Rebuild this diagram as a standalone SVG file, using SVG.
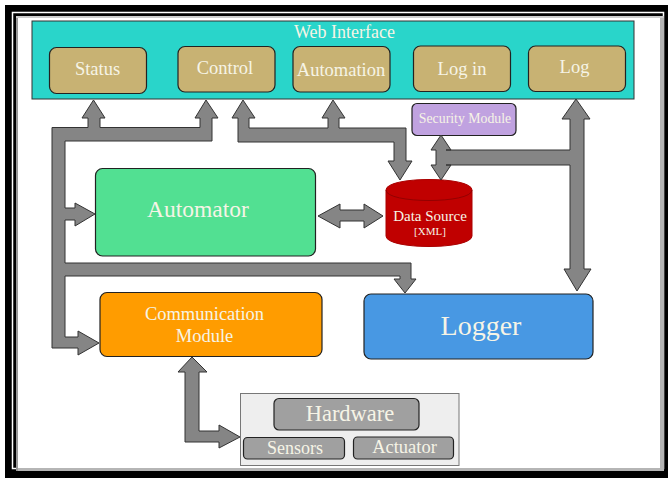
<svg xmlns="http://www.w3.org/2000/svg" width="668" height="479" viewBox="0 0 668 479">
<style>
.n{stroke:#222;stroke-width:1.2}
.c{fill:#858585;stroke:#333;stroke-width:1;stroke-linejoin:miter}
text{font-family:"Liberation Serif","Times New Roman",serif;fill:#f6f4e6;text-anchor:middle}
.t{fill:#c8b273}
.g{fill:#a0a0a0}
</style>
<rect width="668" height="479" fill="#fff"/>
<g id="frame">
<rect x="5" y="5" width="663" height="473" fill="#000"/>
<rect x="12.500" y="12.500" width="651" height="456" fill="none" stroke="#fff" stroke-width="1.500"/>
<rect x="16" y="16" width="648" height="455" fill="#fff"/>
<rect x="660" y="16" width="4" height="455" fill="#b5b5b5"/>
<rect x="16" y="468" width="648" height="3" fill="#b5b5b5"/>
<rect x="16" y="16" width="2" height="455" fill="#999"/>
<rect x="16" y="16" width="648" height="2" fill="#ccc"/>
</g>
<g id="web-interface">
<rect x="32" y="21" width="602" height="78" fill="#29d5ca" stroke="#333" stroke-width="1"/>
<text x="344.500" y="38" font-size="18">Web Interface</text>
</g>
<g id="status"><rect class="n t" x="49.500" y="47.500" width="97" height="46" rx="7"/><text x="97.500" y="75" font-size="18.500">Status</text></g>
<g id="control"><rect class="n t" x="178" y="46.500" width="97" height="45.500" rx="7"/><text x="225" y="74" font-size="18.500">Control</text></g>
<g id="automation"><rect class="n t" x="293" y="46.500" width="97" height="45.500" rx="7"/><text x="341" y="76" font-size="18.500">Automation</text></g>
<g id="log-in"><rect class="n t" x="413.500" y="46" width="97" height="45.500" rx="7"/><text x="462" y="75" font-size="18.500">Log in</text></g>
<g id="log"><rect class="n t" x="528.500" y="46" width="97" height="45.500" rx="7"/><text x="574.500" y="73" font-size="18.500">Log</text></g>
<g id="security-module"><rect class="n" x="412" y="103.500" width="104" height="32" rx="5" fill="#c0a2e0"/><text x="465" y="123" font-size="13.800">Security Module</text></g>
<g id="automator"><rect class="n" x="95.500" y="168.500" width="220" height="87.500" rx="7" fill="#52e092"/><text x="198" y="217" font-size="23.500">Automator</text></g>
<g id="data-source">
<path d="M386 190C386 176 472 176 472 190V236C472 250 386 250 386 236Z" fill="#c00000" stroke="#a00" stroke-width="1"/>
<path d="M386 190C386 204 472 204 472 190" fill="none" stroke="#800" stroke-width="0.800"/>
<text x="430" y="221" font-size="15">Data Source</text><text x="430" y="235" font-size="11">[XML]</text>
</g>
<g id="communication-module"><rect class="n" x="100" y="292.500" width="222" height="64" rx="7" fill="#ff9c00"/><text x="204.500" y="320" font-size="18.500">Communication</text><text x="204.500" y="342" font-size="18.500">Module</text></g>
<g id="logger"><rect class="n" x="364" y="294" width="229" height="65" rx="7" fill="#4898e3"/><text x="481" y="335" font-size="28">Logger</text></g>
<g id="hardware-group">
<rect x="240.500" y="393.500" width="218.500" height="72" fill="#eee" stroke="#777" stroke-width="1"/>
<g id="hardware"><rect class="n g" x="274" y="398.500" width="145" height="31.500" rx="5"/><text x="350" y="421" font-size="22.500">Hardware</text></g>
<g id="sensors"><rect class="n g" x="243.500" y="437.500" width="101" height="21.500" rx="4"/><text x="295" y="454" font-size="18">Sensors</text></g>
<g id="actuator"><rect class="n g" x="353.500" y="437" width="100" height="22" rx="4"/><text x="404.500" y="453" font-size="18.500">Actuator</text></g>
</g>
<g id="connectors">
<polygon class="c" points="93.500,100 105,118 100,118 100,127.500 200,127.500 200,118 195,118 206,100 218,118 212,118 212,141 65,141 65,208 75,208 75,203 95,214 75,226 75,220 65,220 65,263 411,263 411,279 416,279 405,293 394,279 400,279 400,276 65,276 65,337 78,337 78,331 99,343 78,355 78,348 52,348 52,127.500 88,127.500 88,118 82,118"/>
<polygon class="c" points="243,100 255,118 249,118 249,128 328,128 328,118 322,118 333,100 345,118 339,118 339,128 406,128 406,161 412,161 400,180 388,161 394,161 394,142 238,142 238,118 232,118"/>
<polygon class="c" points="576,99 590,119 584,119 584,269 591,269 577,291 564,269 570,269 570,165 446,165 451,165 441,180 431,165 436,165 436,150 431,150 441,135 451,150 446,150 570,150 570,119 562,119"/>
<polygon class="c" points="318,216 340,204 340,210 364,210 364,204 383,216 364,228 364,221 340,221 340,228"/>
<polygon class="c" points="192,357 207,372 199,372 199,431 219,431 219,425 240,437 219,448 219,442 185,442 185,372 178,372"/>
</g>
</svg>
